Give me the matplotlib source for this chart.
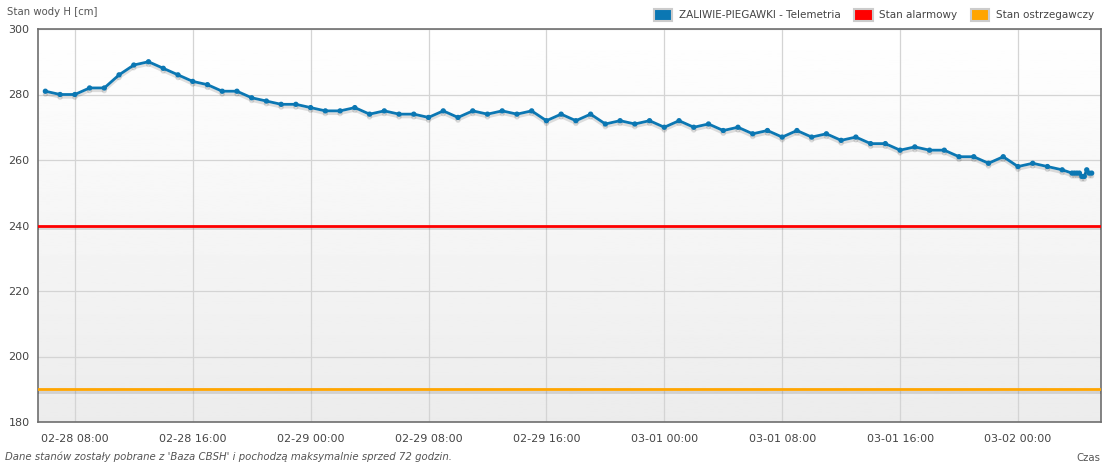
"""
Stan wody - ZALIWIE-PIEGAWKI (telemetria), ostatnie 72 godziny.
"""

import matplotlib
import matplotlib.dates as mdates
import matplotlib.patheffects as pe
import matplotlib.pyplot as plt
import numpy as np
import pandas as pd
from matplotlib.patches import Patch

matplotlib.use("Agg")

# hourly readings from 02-28 06:00 to 03-02 03:00
HOURLY_START = "2024-02-28 06:00"
hourly_levels = [
    281, 280, 280, 282, 282, 286, 289, 290, 288, 286, 284, 283, 281, 281, 279, 278, 277, 277,
    276, 275, 275, 276, 274, 275, 274, 274, 273, 275, 273, 275, 274, 275, 274, 275, 272, 274,
    272, 274, 271, 272, 271, 272,
    270, 272, 270, 271, 269, 270, 268, 269, 267, 269, 267, 268, 266, 267, 265, 265, 263, 264,
    263, 263, 261, 261, 259, 261,
    258, 259, 258, 257,
]
# denser readings at the end
tail_times = ["2024-03-02 03:40", "2024-03-02 03:50", "2024-03-02 04:00", "2024-03-02 04:10",
              "2024-03-02 04:20", "2024-03-02 04:30", "2024-03-02 04:40", "2024-03-02 04:50",
              "2024-03-02 05:00"]
tail_levels = [256, 256, 256, 256, 255, 255, 257, 256, 256]

ALARM = 240
WARNING = 190
X_RANGE = ("2024-02-28 05:30", "2024-03-02 05:38")

times = list(pd.date_range(HOURLY_START, periods=len(hourly_levels), freq="h")) + list(
    pd.to_datetime(tail_times))
levels = hourly_levels + tail_levels

BLUE = "#0b77b3"
RED = "#ff0000"
ORANGE = "#ffa500"
TXT = "#545454"

W, H = 1104, 463
fig = plt.figure(figsize=(W / 100, H / 100), dpi=100)
ax = fig.add_axes([38 / W, 41 / H, 1063 / W, 393 / H])

# background gradient white -> light grey
grad = np.linspace(1.0, 0.925, 256).reshape(-1, 1)
ax.imshow(grad, cmap="gray", vmin=0, vmax=1, aspect="auto", extent=(0, 1, 0, 1),
          transform=ax.transAxes, zorder=0)

shadow = [pe.SimpleLineShadow(offset=(0, -2), shadow_color="k", alpha=0.12), pe.Normal()]
x0, x1 = pd.to_datetime(X_RANGE)
ax.plot([x0, x1], [ALARM, ALARM], color=RED, lw=2.0, path_effects=shadow, zorder=3)
ax.plot([x0, x1], [WARNING, WARNING], color=ORANGE, lw=2.0, path_effects=shadow, zorder=3)
ax.plot(times, levels, color=BLUE, lw=2.0, marker="o", ms=2.8, path_effects=shadow, zorder=4)

ax.set_xlim(x0, x1)
ax.set_ylim(180, 300)
ax.set_yticks(range(180, 301, 20))
ax.xaxis.set_major_locator(mdates.HourLocator(byhour=[0, 8, 16]))
ax.xaxis.set_major_formatter(mdates.DateFormatter("%m-%d %H:%M"))
ax.grid(True, color="#d4d4d4", lw=0.9)
ax.set_axisbelow(True)
ax.tick_params(length=0, labelsize=8, colors="#444444", pad=6)
ax.tick_params(axis="x", pad=9)
for s in ax.spines.values():
    s.set_color("#6e6e6e")
    s.set_linewidth(1.2)

fig.text(7 / W, 1 - 12 / H, "Stan wody H [cm]", fontsize=7.3, color=TXT, va="center")
fig.text(1100 / W, 1 - 458 / H, "Czas", fontsize=7.3, color=TXT, va="center", ha="right")
fig.text(5 / W, 1 - 457 / H,
         "Dane stanów zostały pobrane z 'Baza CBSH' i pochodzą maksymalnie sprzed 72 godzin.",
         fontsize=7.3, color=TXT, va="center", style="italic")

handles = [Patch(facecolor=BLUE, edgecolor="#cccccc", lw=1.5, label="ZALIWIE-PIEGAWKI - Telemetria"),
           Patch(facecolor=RED, edgecolor="#cccccc", lw=1.5, label="Stan alarmowy"),
           Patch(facecolor=ORANGE, edgecolor="#cccccc", lw=1.5, label="Stan ostrzegawczy")]
leg = fig.legend(handles=handles, loc="upper right", bbox_to_anchor=(1101 / W, 1 - 2 / H),
                 ncol=3, frameon=False, fontsize=7.5, handlelength=1.8, handleheight=1.3,
                 handletextpad=0.6, columnspacing=1.3, borderpad=0.2)
for t in leg.get_texts():
    t.set_color("#444444")

fig.savefig("out.png", dpi=100)
